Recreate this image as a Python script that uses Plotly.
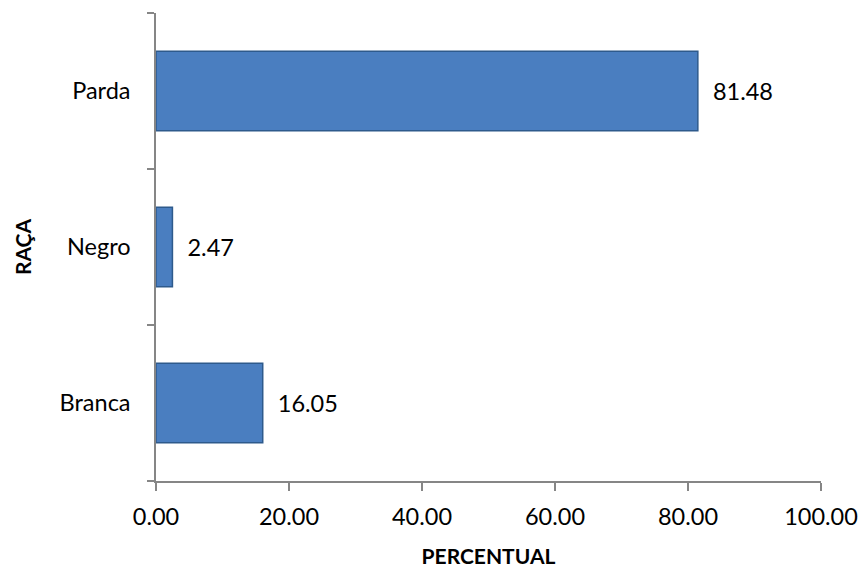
import plotly.graph_objects as go

categories = ["Branca", "Negro", "Parda"]
values = [16.05, 2.47, 81.48]
x_ticks = [0, 20, 40, 60, 80, 100]

FONT = "Lato, Calibri, sans-serif"
AXIS_GRAY = "#868686"

fig = go.Figure()
fig.add_trace(go.Bar(
    y=categories,
    x=values,
    orientation="h",
    marker=dict(color="#4A7EC0", line=dict(color="#2E5A8C", width=1.5)),
    texttemplate="  %{x:.2f}",
    textposition="outside",
    textfont=dict(family=FONT, size=23.5, color="#000000"),
    cliponaxis=False,
    hoverinfo="skip",
))

fig.update_layout(
    width=861, height=568,
    margin=dict(l=155.5, r=40, t=13, b=86.5, autoexpand=False),
    paper_bgcolor="white", plot_bgcolor="white",
    bargap=0.49,
    showlegend=False,
    font=dict(family=FONT, size=23.5, color="#000000"),
)
fig.update_xaxes(
    range=[0, 100],
    tickvals=x_ticks,
    tickformat=".2f",
    showgrid=False, zeroline=False,
    showline=True, linecolor=AXIS_GRAY, linewidth=1.5,
    ticks="outside", ticklen=8, tickcolor=AXIS_GRAY, tickwidth=1.5,
    tickfont=dict(family=FONT, size=23.5),
    ticklabelstandoff=6,
    automargin=False,
    title=dict(text="<b>PERCENTUAL</b>", font=dict(family=FONT, size=21), standoff=20),
)
fig.update_yaxes(
    categoryorder="array", categoryarray=categories,
    range=[-0.5, 2.5],
    tickson="boundaries",
    showgrid=False, zeroline=False,
    showline=True, linecolor=AXIS_GRAY, linewidth=1.5,
    ticks="outside", ticklen=7, tickcolor=AXIS_GRAY, tickwidth=1.5,
    tickfont=dict(family=FONT, size=23.5),
    ticklabelstandoff=19,
    automargin=False,
    title=dict(text="<b>RAÇA</b>", font=dict(family=FONT, size=21), standoff=22),
)

fig.write_html(
    "out.html",
    config={"displayModeBar": False},
    post_script="document.body.style.margin='0';document.body.style.padding='0';",
)
